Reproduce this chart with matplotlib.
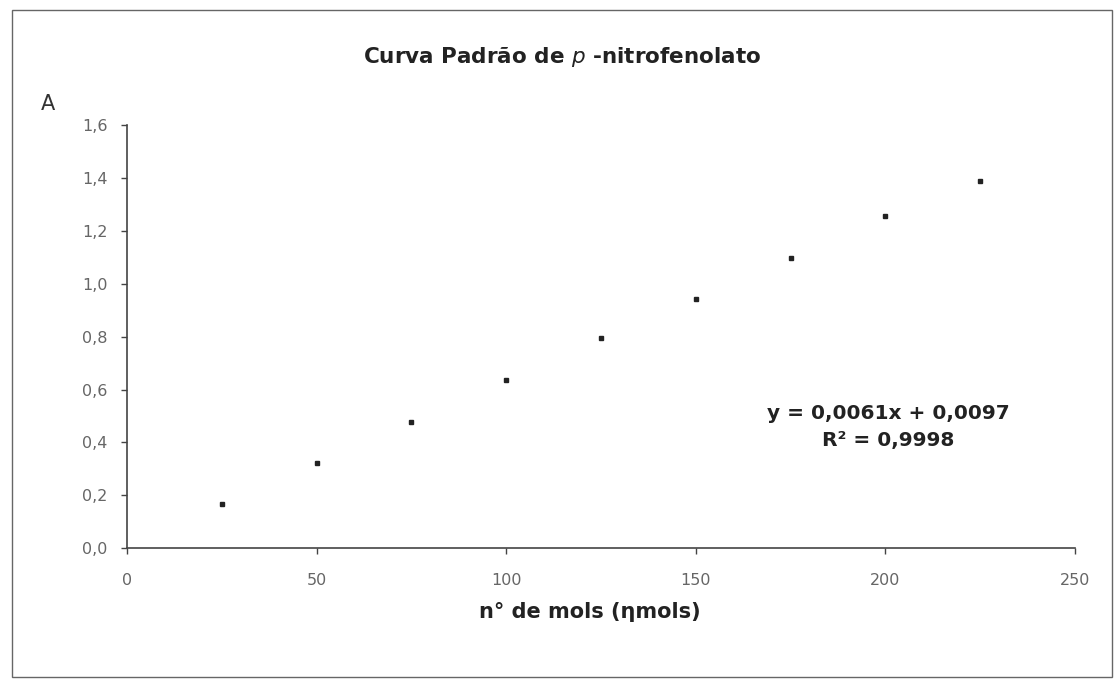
import matplotlib
matplotlib.use("Agg")
import matplotlib.pyplot as plt
from matplotlib.patches import Rectangle
from matplotlib.ticker import FuncFormatter

# padrão de p-nitrofenolato: quantidade (nmol) x absorbância
mols = [25, 50, 75, 100, 125, 150, 175, 200, 225]
absorb = [0.168, 0.322, 0.479, 0.637, 0.795, 0.943, 1.098, 1.257, 1.390]
x_ticks = [0, 50, 100, 150, 200, 250]
y_ticks = [0.0, 0.2, 0.4, 0.6, 0.8, 1.0, 1.2, 1.4, 1.6]
eq_text = "y = 0,0061x + 0,0097\nR² = 0,9998"

plt.rcParams['font.family'] = ['DejaVu Sans']

fig = plt.figure(figsize=(11.15, 6.8), dpi=100)
fig.patches.append(Rectangle((0.011, 0.004), 0.986, 0.981, transform=fig.transFigure,
                             fill=False, edgecolor='#666666', linewidth=1.0))

ax = fig.add_axes([0.1139, 0.1937, 0.8502, 0.6225])
ax.plot(mols, absorb, 's', color='#222222', markersize=2.4, linestyle='none')

ax.set_xlim(0, 250)
ax.set_ylim(0, 1.6)
ax.set_xticks(x_ticks)
ax.set_yticks(y_ticks)
ax.yaxis.set_major_formatter(FuncFormatter(lambda v, p: f"{v:.1f}".replace('.', ',')))

for s in ['top', 'right']:
    ax.spines[s].set_visible(False)
for s in ['left', 'bottom']:
    ax.spines[s].set_color('#444444')
    ax.spines[s].set_linewidth(1.2)
ax.tick_params(direction='out', length=4, width=1, color='#444444',
               labelsize=11.5, labelcolor='#666666')
ax.tick_params(axis='x', pad=14)
ax.tick_params(axis='y', pad=10)

fig.text(0.504, 0.916, r"Curva Padrão de $p$ -nitrofenolato", ha='center', va='center',
         fontsize=15.5, fontweight='bold', color='#222222')
fig.text(0.037, 0.847, "A", ha='left', va='center', fontsize=15, color='#333333')
ax.set_xlabel("n° de mols (ηmols)", fontsize=15, fontweight='bold', color='#222222')
ax.xaxis.set_label_coords(0.488, -0.128)

ax.text(0.797, 0.372, eq_text, transform=fig.transFigure, ha='center', va='center',
        fontsize=14.5, fontweight='bold', color='#222222', linespacing=1.55)

fig.savefig("out.png", dpi=100, facecolor='white')
